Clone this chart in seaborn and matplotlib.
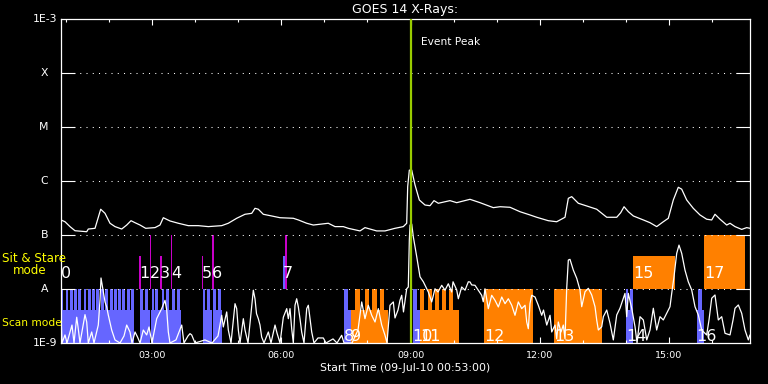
import matplotlib
matplotlib.use("Agg")
import matplotlib.pyplot as plt
import matplotlib.ticker as mticker
import matplotlib.transforms as mtransforms
import numpy as np
import seaborn as sns

# GOES 14 long channel, time in hours of 09-Jul-2010, flux in units of 1e-7 W/m^2
hi_time = [0.883, 0.976, 1.092, 1.208, 1.480, 1.517, 1.673, 1.805, 1.905, 2.021, 2.137, 2.293,
           2.409, 2.509, 2.602, 2.718, 2.850, 3.066, 3.182, 3.259, 3.414, 3.607, 3.839, 4.071,
           4.304, 4.615, 4.768, 4.963, 5.156, 5.312, 5.388, 5.465, 5.581, 5.776, 5.969, 6.278,
           6.394, 6.589, 6.742, 7.090, 7.246, 7.439, 7.555, 7.826, 7.942, 8.214, 8.407, 8.639,
           8.832, 8.911, 8.934, 8.972, 9.027, 9.104, 9.204, 9.336, 9.452, 9.545, 9.645, 9.916,
           10.072, 10.381, 10.613, 10.922, 11.078, 11.310, 11.542, 11.774, 11.930, 12.199, 12.394,
           12.587, 12.664, 12.743, 12.896, 13.091, 13.323, 13.556, 13.788, 13.881, 13.958, 14.058,
           14.174, 14.406, 14.561, 14.716, 14.870, 14.986, 15.102, 15.218, 15.297, 15.413, 15.566,
           15.722, 15.877, 15.994, 16.070, 16.187, 16.342, 16.419, 16.535, 16.690, 16.806, 16.883]
hi_flux = [1.90, 1.76, 1.43, 1.20, 1.15, 1.29, 1.33, 3.00, 2.52, 1.65, 1.43, 1.29,
           1.53, 1.84, 1.69, 1.53, 1.33, 1.37, 1.53, 2.09, 1.82, 1.65, 1.49, 1.49,
           1.43, 1.49, 1.65, 2.04, 2.42, 2.52, 3.12, 3.00, 2.42, 2.25, 2.09, 2.04,
           1.90, 1.65, 1.53, 1.65, 1.43, 1.43, 1.33, 1.19, 1.37, 1.19, 1.19, 1.33,
           1.43, 1.65, 7.9, 15.9, 15.9, 8.44, 4.45, 3.59, 3.49, 4.33, 3.87, 4.33,
           3.97, 4.58, 3.97, 3.21, 3.34, 3.26, 2.70, 2.35, 2.13, 1.84, 1.76,
           2.13, 4.78, 5.13, 3.87, 3.45, 3.00, 2.13, 2.13, 2.59, 3.34, 2.70,
           2.25, 1.90, 1.69, 1.43, 1.76, 2.04, 4.45, 7.65, 7.05, 4.45, 3.12,
           2.35, 1.96, 1.90, 2.42, 1.96, 1.53, 1.65, 1.43, 1.27, 1.37, 1.33]

# lower (background subtracted) trace, units of 1e-9
lo_time = [0.883, 0.906, 0.976, 1.022, 1.138, 1.185, 1.248, 1.278, 1.324, 1.440, 1.480, 1.517,
           1.596, 1.649, 1.749, 1.789, 1.812, 1.858, 1.905, 1.944, 1.981, 2.060, 2.137, 2.253,
           2.346, 2.409, 2.485, 2.532, 2.602, 2.660, 2.718, 2.794, 2.873, 2.927, 2.996, 3.105,
           3.182, 3.221, 3.298, 3.338, 3.375, 3.414, 3.553, 3.686, 3.739, 3.832, 3.879, 3.918,
           3.995, 4.227, 4.390, 4.529, 4.615, 4.652, 4.731, 4.768, 4.831, 4.924, 4.963, 5.001,
           5.040, 5.117, 5.156, 5.226, 5.349, 5.388, 5.423, 5.465, 5.504, 5.543, 5.597, 5.698,
           5.760, 5.853, 5.899, 5.969, 6.046, 6.125, 6.162, 6.201, 6.240, 6.278, 6.317, 6.356,
           6.394, 6.433, 6.472, 6.526, 6.589, 6.626, 6.665, 6.705, 6.758, 6.851, 6.974, 7.037,
           7.200, 7.292, 7.401, 7.455, 7.641, 7.780, 7.866, 7.942, 8.019, 8.098, 8.175, 8.252,
           8.330, 8.407, 8.454, 8.523, 8.600, 8.639, 8.709, 8.755, 8.795, 8.836, 8.911, 8.948,
           8.972, 8.988, 9.027, 9.065, 9.144, 9.220, 9.297, 9.413, 9.492, 9.568, 9.638, 9.724,
           9.800, 9.877, 9.956, 9.987, 10.072, 10.110, 10.188, 10.265, 10.342, 10.381, 10.420, 10.497,
           10.574, 10.652, 10.689, 10.729, 10.806, 10.885, 10.962, 11.039, 11.118, 11.194, 11.271, 11.350,
           11.426, 11.503, 11.582, 11.659, 11.698, 11.735, 11.774, 11.814, 11.891, 11.967, 12.046, 12.088,
           12.163, 12.239, 12.279, 12.355, 12.394, 12.431, 12.494, 12.548, 12.587, 12.626, 12.664, 12.703,
           12.780, 12.859, 12.935, 12.975, 13.052, 13.129, 13.207, 13.284, 13.323, 13.361, 13.440, 13.477,
           13.556, 13.632, 13.709, 13.788, 13.864, 13.980, 14.020, 14.057, 14.136, 14.213, 14.260, 14.329,
           14.406, 14.485, 14.561, 14.638, 14.716, 14.793, 14.870, 14.947, 15.025, 15.065, 15.118, 15.181,
           15.234, 15.297, 15.373, 15.450, 15.529, 15.606, 15.683, 15.762, 15.877, 15.931, 15.994, 16.070,
           16.147, 16.226, 16.303, 16.419, 16.489, 16.535, 16.612, 16.690, 16.767, 16.844, 16.883]
lo_flux = [3.3, 1.0, 1.41, 1.0, 2.15, 1.0, 3.0, 2.0, 1.0, 3.35, 2.45, 1.0,
           1.6, 1.0, 2.15, 6.27, 16, 9.6, 5.76, 4.65, 3.3, 1.74, 1.14, 1.0,
           1.35, 2.15, 1.6, 1.0, 1.6, 1.29, 1.0, 1.74, 1.41, 1.98, 1.0, 2.82,
           3.76, 4.33, 6.17, 4.08, 1.6, 1.0, 1.14, 2.15, 1.0, 1.35, 1.49, 1.41,
           1.0, 1.14, 1.0, 1.35, 3.26, 1.98, 3.76, 1.74, 1.0, 5.35, 4.33, 1.74,
           1.0, 2.82, 1.74, 1.0, 9.5, 6.6, 3.5, 2.82, 2.15, 1.29, 1.0, 1.6,
           1.0, 2.15, 1.53, 1.0, 3.0, 4.33, 2.82, 4.33, 1.84, 1.0, 5.0, 6.6,
           4.65, 2.82, 1.6, 1.0, 4.33, 5.0, 2.82, 1.6, 1.0, 1.24, 1.24, 1.0,
           1.19, 1.0, 1.39, 1.0, 1.0, 1.74, 5.76, 2.82, 5.0, 3.26, 2.45, 4.33,
           2.15, 1.39, 1.0, 5.0, 5.76, 2.91, 4.08, 6.17, 7.65, 3.76, 10.1, 10.9,
           81, 153, 160, 92, 39.5, 16.8, 13.6, 8.8, 5.76, 10.1, 8.8, 11.7,
           9.5, 12.5, 8.8, 13.6, 9.6, 6.6, 10.9, 9.5, 13.6, 13.5, 11.9, 11.7,
           9.5, 7.65, 5.8, 10.1, 4.33, 7.65, 6.17, 4.65, 7.1, 5.35, 6.6, 5.0,
           3.26, 5.76, 4.33, 5.0, 2.45, 1.84, 5.35, 7.65, 7.1, 5.0, 3.26, 4.08,
           2.15, 3.26, 1.6, 2.15, 1.2, 2.45, 1.6, 2.15, 1.2, 10.1, 34.4, 35.4,
           22.4, 15.8, 9.6, 4.7, 8.9, 10.3, 7.75, 4.7, 2.67, 1.74, 2.0, 3.07,
           4.08, 2.32, 1.14, 3.3, 4.4, 8.3, 3.07, 8.3, 4.4, 2.0, 1.0, 3.07,
           2.67, 1.14, 1.74, 4.4, 1.74, 3.07, 2.67, 3.55, 4.7, 8.3, 16.8, 45.7,
           65, 45.7, 22.4, 13.6, 9.6, 4.7, 3.3, 1.74, 1.41, 2.67, 6.75, 7.75,
           2.67, 3.07, 1.51, 1.41, 2.67, 4.4, 5.06, 3.55, 1.74, 1.14, 1.41]

# scan mode rasters (start, end in hours)
blue_low = [(0.883, 2.578), (2.706, 2.961), (2.980, 3.431), (3.449, 3.670), (4.169, 4.397),
            (4.418, 4.633), (7.455, 7.618), (9.046, 9.220), (14.004, 14.173), (15.641, 15.815)]
blue_high = [(0.883, 0.940), (0.990, 1.055), (1.088, 1.152), (1.188, 1.252), (1.283, 1.357),
             (1.413, 1.470), (1.506, 1.570), (1.611, 1.675), (1.703, 1.760), (1.820, 1.879),
             (1.912, 1.976), (2.017, 2.081), (2.117, 2.181), (2.214, 2.278), (2.307, 2.376),
             (2.412, 2.480), (2.505, 2.578),
             (2.714, 2.778), (2.830, 2.894), (2.985, 3.040), (3.074, 3.138), (3.222, 3.282),
             (3.322, 3.388), (3.468, 3.532), (3.566, 3.637),
             (4.172, 4.229), (4.281, 4.338), (4.418, 4.473), (4.525, 4.589),
             (7.455, 7.541), (9.046, 9.139), (14.004, 14.057), (14.085, 14.173), (15.669, 15.769)]
orange_low = [(7.618, 8.484), (9.220, 10.126)]
orange_high = [(7.711, 7.826), (7.954, 8.047), (8.112, 8.214), (8.291, 8.391),
               (9.220, 9.313), (9.406, 9.499), (9.569, 9.662), (9.731, 9.824), (9.894, 9.987),
               (10.706, 11.837), (12.332, 13.447)]

# sit & stare rasters (start, end, top flux)
ss_magenta = [(0.883, 0.910, 1e-7), (2.694, 2.741, 4e-8), (2.948, 2.975, 1e-7), (3.182, 3.221, 4e-8),
              (3.433, 3.465, 1e-7), (4.148, 4.176, 4e-8), (4.397, 4.436, 1e-7), (6.085, 6.132, 1e-7)]
ss_blue = [(6.039, 6.085, 4e-8)]
ss_orange = [(14.173, 15.142, 4e-8), (15.815, 16.768, 1e-7)]

ss_labels = ["0", "1", "2", "3", "4", "5", "6", "7", "15", "17"]
ss_label_time = [0.883, 2.694, 2.950, 3.182, 3.437, 4.150, 4.397, 6.039, 14.173, 15.815]
scan_labels = ["8", "9", "10", "11", "12", "13", "14", "16"]
scan_label_time = [7.455, 7.618, 9.046, 9.220, 10.706, 12.332, 14.004, 15.641]

peak_time = 9.011
level_flux = [1e-9, 1e-8, 1e-7, 1e-6, 1e-5, 1e-4, 1e-3]
level_names = ["1E-9", "A", "B", "C", "M", "X", "1E-3"]
hour_ticks = [3, 6, 9, 12, 15]
hour_names = ["03:00", "06:00", "09:00", "12:00", "15:00"]

BLUE = "#6666ff"
ORANGE = "#ff8000"
MAGENTA = "#c800c8"

sns.set_theme(style="ticks", rc={"axes.facecolor": "black", "figure.facecolor": "black",
                                 "axes.edgecolor": "white", "xtick.color": "white",
                                 "ytick.color": "white", "text.color": "white"})
plt.rcParams["font.family"] = ["DejaVu Sans"]

fig = plt.figure(figsize=(7.68, 3.84), dpi=100)
ax = fig.add_axes([61 / 768, 41 / 384, 689 / 768, 324 / 384])
ax.set_yscale("log")
ax.set_xlim(0.883, 16.883)
ax.set_ylim(1e-9, 1e-3)


def draw_bars(spans, bottom, top, color):
    for s, e in spans:
        ax.bar(s, top - bottom, width=e - s, bottom=bottom, align="edge",
               color=color, linewidth=0, antialiased=False, zorder=1)


draw_bars(blue_low, 1e-9, 4e-9, BLUE)
draw_bars(blue_high, 1e-9, 1e-8, BLUE)
draw_bars(orange_low, 1e-9, 4e-9, ORANGE)
draw_bars(orange_high, 1e-9, 1e-8, ORANGE)
for group, color in [(ss_magenta, MAGENTA), (ss_blue, BLUE), (ss_orange, ORANGE)]:
    for s, e, top in group:
        ax.bar(s, top - 1e-8, width=e - s, bottom=1e-8, align="edge",
               color=color, linewidth=0, antialiased=False, zorder=1)

sns.lineplot(x=hi_time, y=np.array(hi_flux) * 1e-7, ax=ax, color="white", lw=0.9,
             sort=False, estimator=None, zorder=2)
sns.lineplot(x=lo_time, y=np.array(lo_flux) * 1e-9, ax=ax, color="white", lw=0.9,
             sort=False, estimator=None, zorder=2)

ax.axvline(peak_time, color="#99cc00", lw=1.6, zorder=4)
ax.annotate("Event Peak", xy=(peak_time, 0.9275), xycoords=("data", "axes fraction"),
            xytext=(7, 0), textcoords="offset points", va="center", ha="left",
            fontsize=7.7, color="white")

for lab, t in zip(ss_labels, ss_label_time):
    ax.text(t, 1.6e-8, lab, fontsize=11.5, color="white", ha="left", va="baseline", zorder=3)
for lab, t in zip(scan_labels, scan_label_time):
    ax.text(t, 1.09e-9, lab, fontsize=11.5, color="white", ha="left", va="baseline", zorder=3)

# y axis: class levels
ax.yaxis.set_major_locator(mticker.FixedLocator(level_flux[1:-1]))
ax.yaxis.set_minor_locator(mticker.NullLocator())
ax.tick_params(axis="y", which="major", direction="in", length=10, width=0.8,
               left=True, right=True, labelleft=False)
ax.yaxis.grid(True, color="white", lw=0.75, linestyle=(0, (1, 5)))
ax.set_axisbelow(False)
trans = mtransforms.blended_transform_factory(ax.transAxes, ax.transData)
for v, name in zip(level_flux, level_names):
    xoff = -0.006 if name.startswith("1E") else -0.019
    ax.text(xoff, v, name, transform=trans, ha="right", va="center", fontsize=7.8, color="white")

# x axis: hours
ax.xaxis.set_major_locator(mticker.FixedLocator(hour_ticks))
ax.xaxis.set_minor_locator(mticker.FixedLocator(range(1, 17)))
ax.set_xticklabels(hour_names)
ax.tick_params(axis="x", which="major", direction="in", length=4.5, width=0.8,
               top=True, bottom=True, labelsize=6.8, pad=5.5, colors="white")
ax.tick_params(axis="x", which="minor", direction="in", length=2.2, width=0.8,
               top=True, bottom=True)
for sp in ax.spines.values():
    sp.set_color("white")
    sp.set_linewidth(0.9)
ax.set_xlabel("")
ax.set_ylabel("")

ax.set_title("GOES 14 X-Rays:", fontsize=9, color="white", pad=4)
fig.text(405 / 768, 1 - 368 / 384, "Start Time (09-Jul-10 00:53:00)", ha="center", va="center",
         fontsize=7.8, color="white")
fig.text(2 / 768, 1 - 259 / 384, "Sit & Stare", ha="left", va="center", fontsize=8.6, color="yellow")
fig.text(13 / 768, 1 - 271 / 384, "mode", ha="left", va="center", fontsize=8.6, color="yellow")
fig.text(2 / 768, 1 - 323 / 384, "Scan mode", ha="left", va="center", fontsize=7.7, color="yellow")

fig.savefig("out.png", dpi=100, facecolor="black")
